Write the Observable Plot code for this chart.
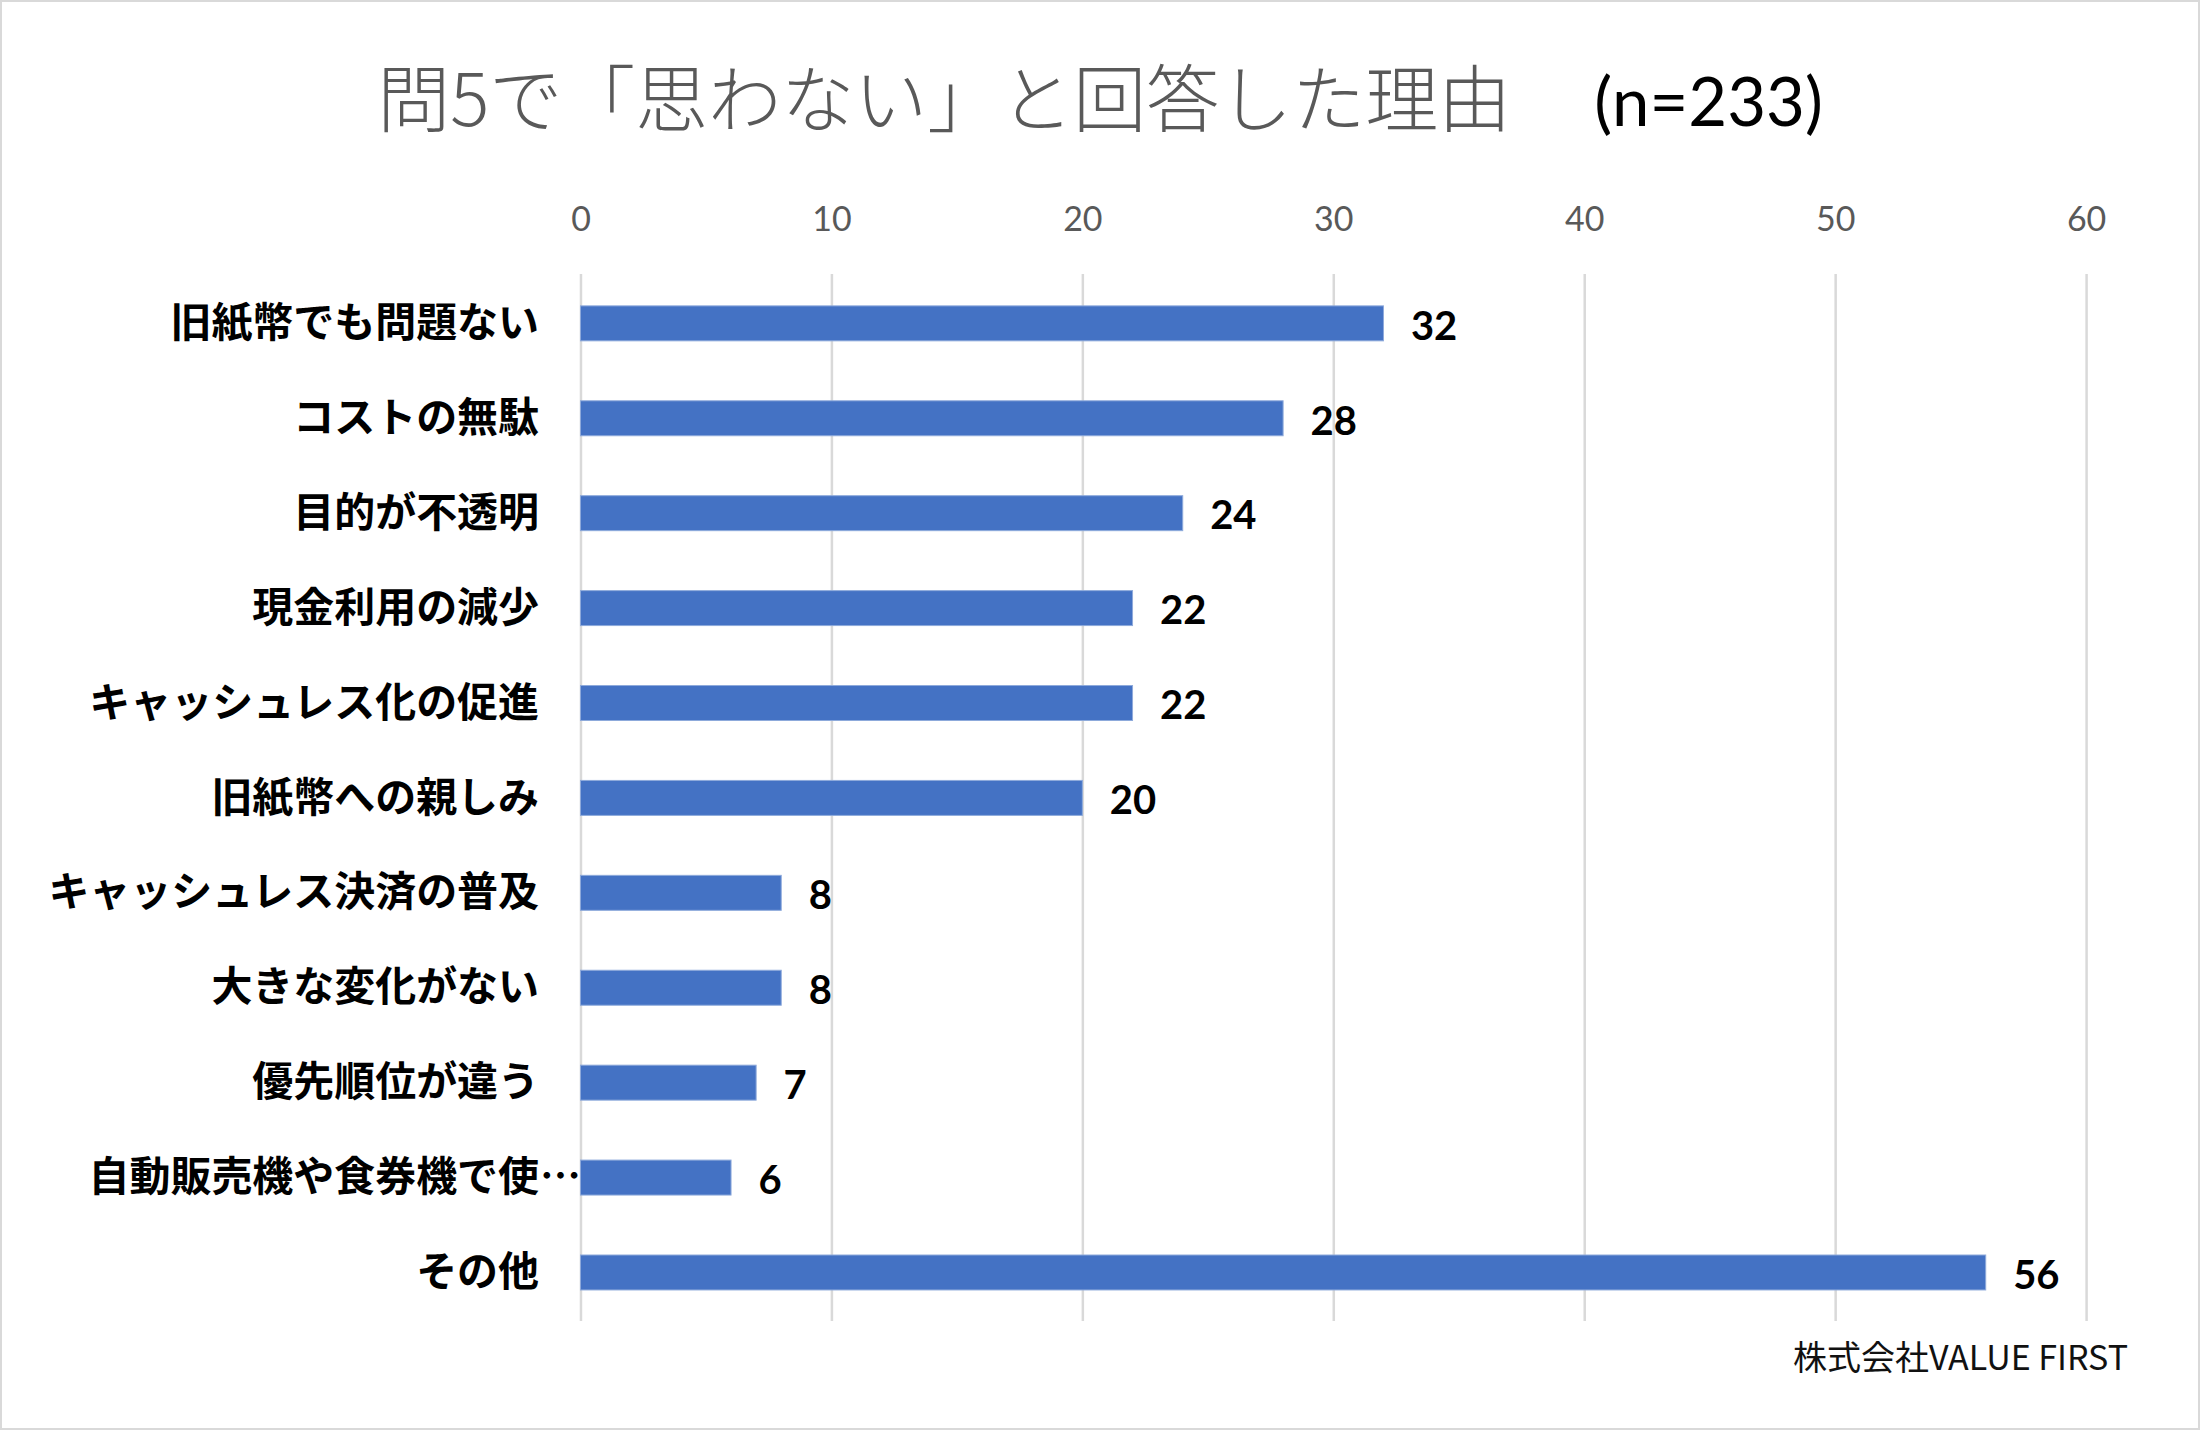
<!DOCTYPE html>
<html>
<head>
<meta charset="utf-8">
<script src="https://cdn.jsdelivr.net/npm/d3@7"></script>
<script src="https://cdn.jsdelivr.net/npm/@observablehq/plot@0.6"></script>
<style>
  html, body { margin: 0; padding: 0; background: #fff; }
  #frame { position: relative; width: 2200px; height: 1430px; box-sizing: border-box; border: 2px solid #d9d9d9; background: #fff; overflow: hidden; }
  #title { position: absolute; left: 0; top: 47px; width: 2196px; text-align: center; height: 90px; line-height: 90px; font-size: 73px; font-family: "Noto Sans CJK JP", sans-serif; font-weight: 300; color: #595959; white-space: pre; }
  #title .n { color: #000; font-size: 67px; font-family: Lato, "Noto Sans CJK JP", sans-serif; font-weight: 400; margin-left: 10px; }
  #chart { position: absolute; left: -2px; top: 166px; }
  #caption { position: absolute; right: 70px; top: 1329px; height: 50px; line-height: 50px; font-size: 34px; font-family: "Noto Sans CJK JP", sans-serif; color: #111; }
</style>
</head>
<body>
<div id="frame">
  <div id="title">問5で「思わない」と回答した理由　<span class="n">(n=233)</span></div>
  <div id="chart"></div>
  <div id="caption">株式会社VALUE FIRST</div>
</div>
<script>
const categories = [
  "旧紙幣でも問題ない",
  "コストの無駄",
  "目的が不透明",
  "現金利用の減少",
  "キャッシュレス化の促進",
  "旧紙幣への親しみ",
  "キャッシュレス決済の普及",
  "大きな変化がない",
  "優先順位が違う",
  "自動販売機や食券機で使…",
  "その他"
];
const values = [32, 28, 24, 22, 22, 20, 8, 8, 7, 6, 56];
const xTicks = [0, 10, 20, 30, 40, 50, 60];

const data = categories.map((c, i) => ({ category: c, value: values[i] }));
const truncated = data.filter(d => d.category.endsWith("…"));

const chart = Plot.plot({
  width: 2200,
  height: 1170,
  marginLeft: 581,
  marginRight: 112,
  marginTop: 106,
  marginBottom: 16,
  style: { fontFamily: "Lato, 'Noto Sans CJK JP', sans-serif", background: "transparent" },
  x: { domain: [0, 60] },
  y: { domain: categories, paddingInner: 0.632, paddingOuter: 0.32 },
  marks: [
    Plot.gridX(xTicks, { stroke: "#d9d9d9", strokeOpacity: 1, strokeWidth: 2.5 }),
    Plot.axisX({ anchor: "top", ticks: xTicks, tickSize: 0, tickPadding: 43, fontSize: 34, color: "#595959", label: null }),
    Plot.axisY({ tickSize: 0, tickPadding: 42, fontSize: 41, fontWeight: "bold", color: "#000", label: null,
      fontFamily: "'Noto Sans CJK JP', sans-serif", tickFormat: d => d.replace("…", "") }),
    Plot.text(truncated, { x: 0, y: "category", text: () => "…", textAnchor: "end", fontSize: 41, fontWeight: "bold",
      fontFamily: "'Noto Sans CJK JP', sans-serif", fill: "#000" }),
    Plot.barX(data, { x: "value", y: "category", fill: "#4472C4", stroke: "#8eaadb", strokeWidth: 1 }),
    Plot.text(data, { x: "value", y: "category", text: d => String(d.value), textAnchor: "start", dx: 27, dy: 3,
      fontSize: 40, fontWeight: "bold", fill: "#000" })
  ]
});
document.getElementById("chart").appendChild(chart);
</script>
</body>
</html>
